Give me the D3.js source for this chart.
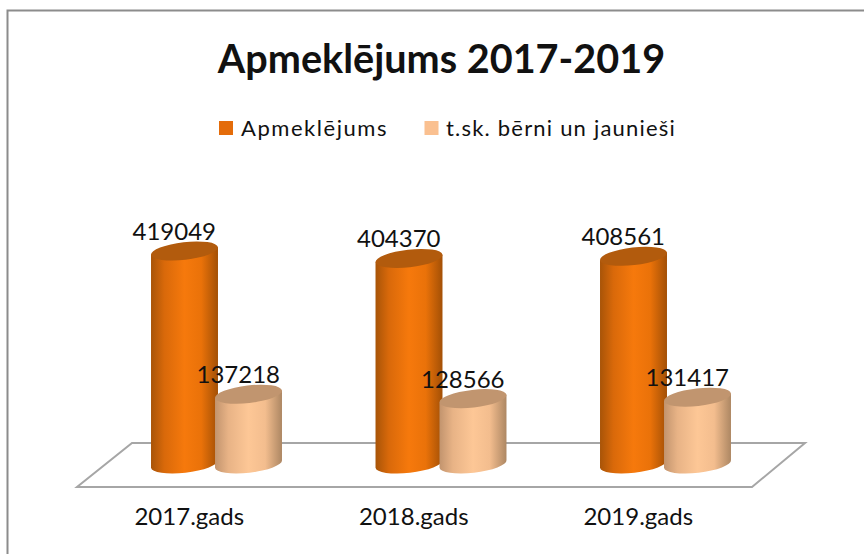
<!DOCTYPE html>
<html>
<head>
<meta charset="utf-8">
<script src="https://d3js.org/d3.v7.min.js"></script>
<style>
html,body{margin:0;padding:0;background:#fff;overflow:hidden}
svg{display:block}
text{font-family:Lato,"Open Sans",sans-serif;fill:#111}
</style>
</head>
<body>
<svg id="chart" width="864" height="554"></svg>
<script>
const titleText = "Apmeklējums 2017-2019";
const categories = ["2017.gads", "2018.gads", "2019.gads"];
const seriesNames = ["Apmeklējums", "t.sk. bērni un jaunieši"];
const visits = [419049, 404370, 408561];
const youth = [137218, 128566, 131417];

const svg = d3.select("#chart");
const defs = svg.append("defs");

function gradient(id, stops) {
  const g = defs.append("linearGradient").attr("id", id);
  g.selectAll("stop").data(stops).join("stop")
    .attr("offset", d => d[0]).attr("stop-color", d => d[1]);
}
gradient("gOrange", [[0, "#a85408"], [0.2, "#d9690a"], [0.5, "#f6790c"], [0.75, "#ea7209"], [1, "#a35006"]]);
gradient("gPeach", [[0, "#c2946e"], [0.2, "#e8b386"], [0.5, "#fdc796"], [0.75, "#f3bd8e"], [1, "#ad8763"]]);

// frame
svg.append("path").attr("d", "M7.5,554V10.5H864").attr("fill", "none").attr("stroke", "#8c8c8c").attr("stroke-width", 2);

// floor
const floorBack = 443, floorFront = 487;
svg.append("path")
  .attr("d", `M77,${floorFront}L752,${floorFront}L805,${floorBack}L132,${floorBack}Z`)
  .attr("fill", "#fff").attr("stroke", "#a6a6a6").attr("stroke-width", 2);

// scales
const x = d3.scaleBand().domain(categories).range([77, 750.5]);
const y = d3.scaleLinear().domain([0, 419049]).range([464, 251]);
const rx = 33.7, ry = 8.8, tilt = -6.5;

function cylinder(g, cx, topY, baseY, grad, topFill) {
  const t = tilt * Math.PI / 180;
  const dx = rx * Math.cos(t), dy = rx * Math.sin(t);
  const lx = cx - dx, rx2 = cx + dx;
  g.append("path")
    .attr("d", `M${lx},${topY - dy}L${lx},${baseY - dy}A${rx},${ry} ${tilt} 0 0 ${rx2},${baseY + dy}L${rx2},${topY + dy}Z`)
    .attr("fill", `url(#${grad})`);
  g.append("ellipse")
    .attr("cx", 0).attr("cy", 0).attr("rx", rx).attr("ry", ry)
    .attr("transform", `translate(${cx},${topY}) rotate(${tilt})`)
    .attr("fill", topFill);
}

const tickCenter = c => x(c) + x.bandwidth() / 2;

const bars = svg.append("g");
categories.forEach((c, i) => {
  cylinder(bars, tickCenter(c) - 4.75, y(visits[i]), y(0), "gOrange", "#b25b0d");
  cylinder(bars, tickCenter(c) + 59.25, y(youth[i]), y(0), "gPeach", "#c1956f");
});

// data labels
const labels = svg.append("g").attr("font-size", 24).attr("text-anchor", "middle");
categories.forEach((c, i) => {
  labels.append("text").attr("x", tickCenter(c) - 15).attr("y", y(visits[i]) - 11).text(visits[i]);
  labels.append("text").attr("x", tickCenter(c) + 49).attr("y", y(youth[i]) - 11).text(youth[i]);
});

// category axis
const axis = svg.append("g").attr("transform", "translate(0,508)")
  .call(d3.axisBottom(x).tickSize(0).tickPadding(0));
axis.select(".domain").remove();
axis.selectAll("text").attr("font-size", 24).attr("dy", "0.71em").attr("font-family", "Lato").attr("fill", "#111");

// title
svg.append("text").attr("x", 441.5).attr("y", 73).attr("text-anchor", "middle")
  .attr("font-size", 39.6).attr("font-weight", 700).text(titleText);

// legend
const colors = ["#e46c0a", "#fac090"];
const swatchX = [219, 424.5], textX = [241, 446];
seriesNames.forEach((n, i) => {
  svg.append("rect").attr("x", swatchX[i]).attr("y", 121).attr("width", 14).attr("height", 14).attr("fill", colors[i]);
  svg.append("text").attr("x", textX[i]).attr("y", 136).attr("font-size", 22).attr("letter-spacing", i ? 1.2 : 1.55).text(n);
});
</script>
</body>
</html>
